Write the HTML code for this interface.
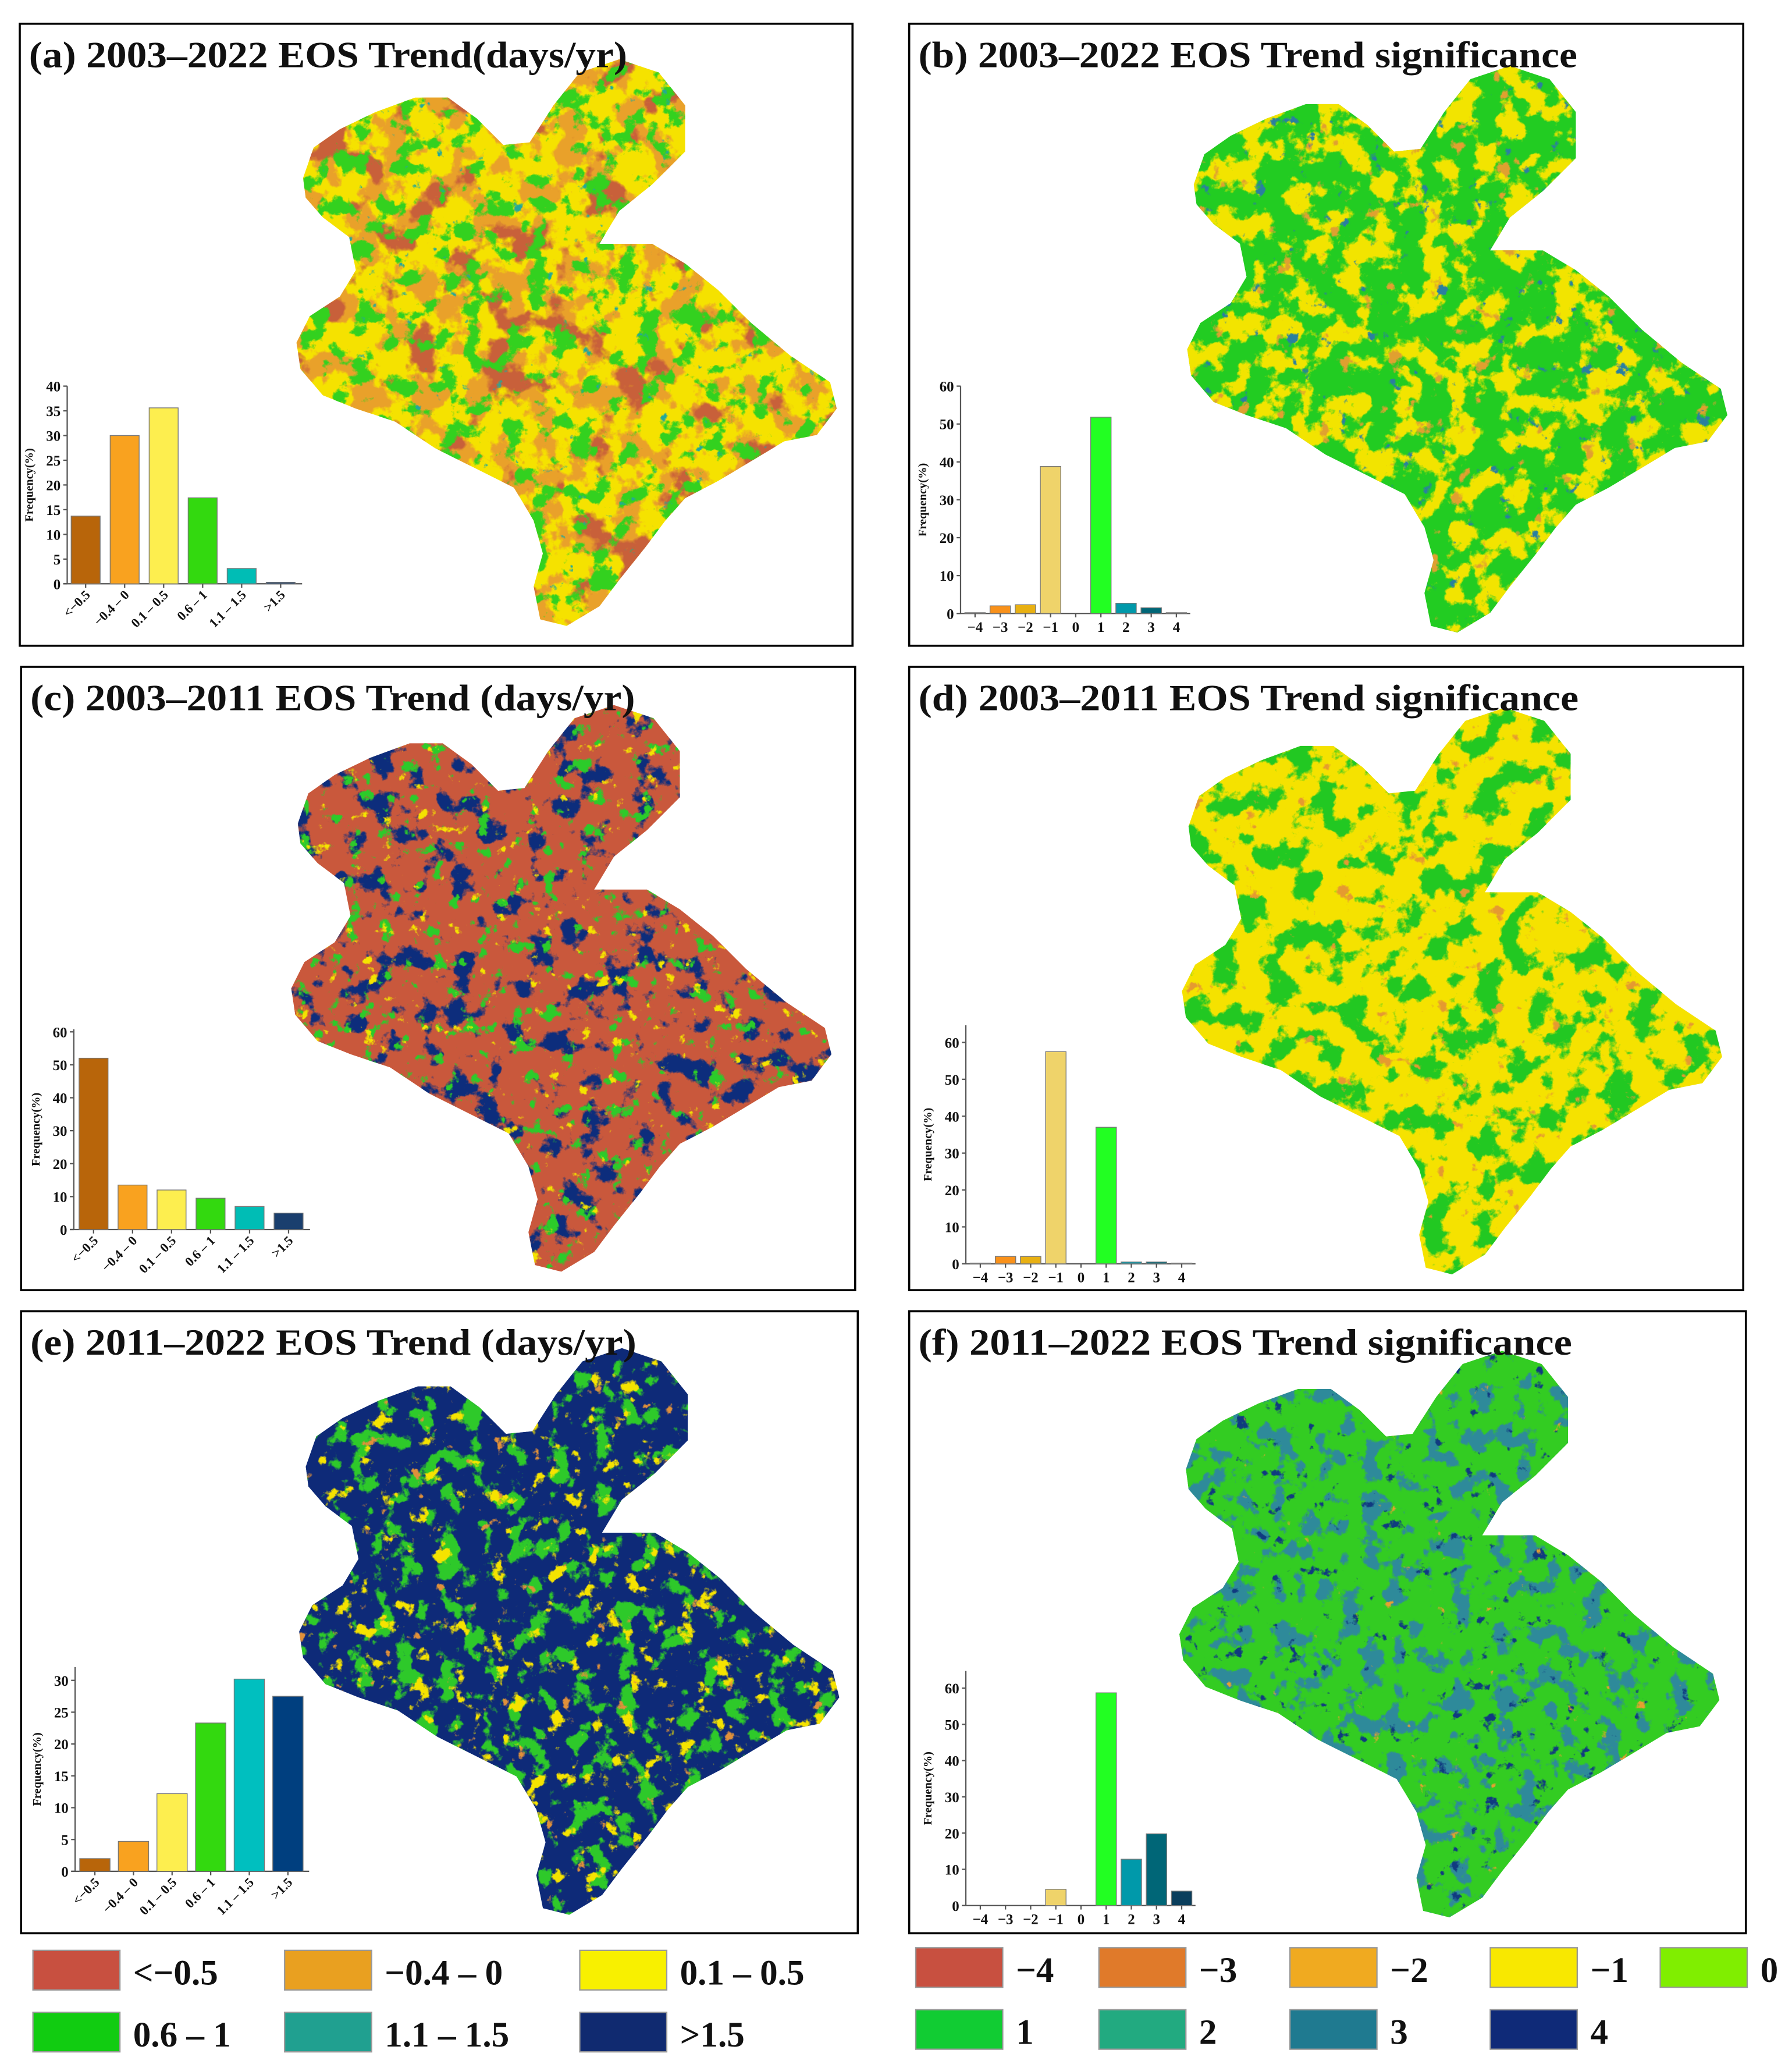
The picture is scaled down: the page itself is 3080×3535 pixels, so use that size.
<!DOCTYPE html>
<html><head><meta charset="utf-8">
<style>
html,body{margin:0;padding:0;background:#fff;}
svg{display:block;}
text{font-family:"Liberation Serif",serif;font-weight:bold;fill:#111;}
</style></head>
<body>
<svg id="fig" width="3080" height="3535" viewBox="0 0 1360 1560.9" preserveAspectRatio="none" xmlns="http://www.w3.org/2000/svg">
<defs id="defs"></defs>
<g id="root"></g>
</svg>
<script>
// ---- histogram data ----
const catsTrend = ["<−0.5","−0.4 – 0","0.1 – 0.5","0.6 – 1","1.1 – 1.5",">1.5"];
const catsSig = ["−4","−3","−2","−1","0","1","2","3","4"];
const valsA = [13.7, 30, 35.6, 17.4, 3.1, 0.3];
const valsB = [0.2, 2, 2.3, 38.8, 0, 51.8, 2.7, 1.5, 0.2];
const valsC = [52, 13.5, 12, 9.5, 7, 5];
const valsD = [0.2, 2, 2, 57.5, 0, 37, 0.5, 0.5, 0.2];
const valsE = [2, 4.7, 12.2, 23.3, 30.2, 27.5];
const valsF = [0, 0, 0, 4.5, 0, 58.7, 12.8, 19.8, 4];
const ticksA = [0,5,10,15,20,25,30,35,40];
const ticksSig = [0,10,20,30,40,50,60];
const ticksE = [0,5,10,15,20,25,30];

const NS="http://www.w3.org/2000/svg";
const root=document.getElementById('root');
const defs=document.getElementById('defs');
function mk(tag,attrs,parent){const e=document.createElementNS(NS,tag);for(const k in attrs)e.setAttribute(k,attrs[k]);(parent||root).appendChild(e);return e;}

const trendCols=["#b8650a","#f9a21f","#fdee4f","#33d90f","#00bdb5","#1a3f6e"];
const trendColsE=["#b8650a","#f9a21f","#fdee4f","#33d90f","#00bfbf","#003f7f"];
const sigCols=["#6b3a10","#f9911a","#e8b012","#efd36a","#ffffff","#22ff22","#0099aa","#006677","#0a3e5c"];

const panels=[
 {id:'a',x:15,y:18,w:632,h:472,tl:454,title:"(a) 2003–2022 EOS Trend(days/yr)"},
 {id:'b',x:690,y:18,w:633,h:472,tl:500,title:"(b) 2003–2022 EOS Trend significance"},
 {id:'c',x:16,y:506,w:633,h:473,tl:459,title:"(c) 2003–2011 EOS Trend (days/yr)"},
 {id:'d',x:690,y:506,w:633,h:473,tl:501,title:"(d) 2003–2011 EOS Trend significance"},
 {id:'e',x:16,y:995,w:635,h:472,tl:460,title:"(e) 2011–2022 EOS Trend (days/yr)"},
 {id:'f',x:690,y:995,w:635,h:472,tl:496,title:"(f) 2011–2022 EOS Trend significance"}
];

// ---- maps ----
const shape=[[230,135],[238,112],[258,98],[285,85],[315,74],[340,74],[362,90],[382,110],[402,108],[420,80],[440,55],[470,45],[500,55],[520,80],[520,115],[495,140],[470,160],[455,185],[470,185],[495,185],[520,200],[545,220],[570,245],[600,270],[630,290],[635,310],[620,330],[595,335],[570,350],[545,365],[520,378],[505,395],[490,415],[470,440],[455,460],[430,475],[410,470],[405,445],[412,420],[405,395],[390,370],[360,355],[330,340],[300,320],[270,310],[245,300],[228,280],[225,260],[235,240],[258,225],[270,205],[265,180],[245,165],[232,150]];
const maps=[
 {id:'a',dx:0,dy:0,base:'#f5e200',layers:[['#e9a12a',0.045,0.50,3],['#c8603a',0.03,0.60,7],['#33d11f',0.06,0.56,11],['#22a89a',0.08,0.76,5]]},
 {id:'b',dx:676,dy:5,base:'#22cc22',layers:[['#f2e400',0.05,0.50,2],['#e0a030',0.06,0.70,9],['#2a7fa0',0.08,0.72,4]]},
 {id:'c',dx:-4,dy:490,base:'#c9583c',layers:[['#0d2d7c',0.05,0.57,6],['#2ccb2a',0.08,0.63,13],['#f4e400',0.08,0.70,8]]},
 {id:'d',dx:672,dy:492,base:'#f5e200',layers:[['#22c822',0.05,0.52,1],['#e59a30',0.07,0.72,15]]},
 {id:'e',dx:2,dy:978,base:'#0e2a78',layers:[['#2ec92a',0.06,0.56,10],['#f5e300',0.07,0.65,12],['#e0903a',0.08,0.74,14]]},
 {id:'f',dx:670,dy:980,base:'#33cc22',layers:[['#2e8a9a',0.06,0.55,17],['#103a80',0.08,0.70,18],['#e8a030',0.08,0.78,19]]}
];
maps.forEach(m=>{
 const pts=shape.map(q=>(q[0]+m.dx)+','+(q[1]+m.dy)).join(' ');
 const cp=mk('clipPath',{id:'clip-'+m.id},defs);
 mk('polygon',{points:pts},cp);
 const g=mk('g',{'clip-path':'url(#clip-'+m.id+')'});
 
 
 mk('polygon',{points:pts,fill:m.base},g);
 m.layers.forEach((L,i)=>{
  const fid='f-'+m.id+i;
  const f=mk('filter',{id:fid,x:0,y:0,width:1,height:1,'color-interpolation-filters':'sRGB'},defs);
  mk('feTurbulence',{type:'fractalNoise',baseFrequency:L[1],numOctaves:5,seed:L[3],result:'n'},f);
  const k=12;
  mk('feColorMatrix',{in:'n',type:'matrix',values:'0 0 0 0 0  0 0 0 0 0  0 0 0 0 0  '+k+' 0 0 0 '+(-k*L[2]),result:'a'},f);
  mk('feFlood',{'flood-color':L[0],result:'c'},f);
  mk('feComposite',{in:'c',in2:'a',operator:'in'},f);
  mk('rect',{x:210+m.dx,y:30+m.dy,width:440,height:460,filter:'url(#'+fid+')'},g);
 });
});

// ---- panel frames and titles (on top of maps) ----
panels.forEach(p=>{
 const r=mk('rect',{x:p.x,y:p.y,width:p.w,height:p.h,fill:'none',stroke:'#000','stroke-width':1.6});
 
 
 const t=mk('text',{x:p.x+7,y:p.y+33,'font-size':28,textLength:p.tl,lengthAdjust:'spacingAndGlyphs'});
 t.textContent=p.title;
 
 
});

// ---- histograms ----
function hist(o){
 const g=mk('g',{});
 
 
 const yv=v=>o.y0-v*o.ppu;
 const xc=i=>o.x0+o.first+i*o.step;
 const xEnd=o.x0+o.first+(o.cats.length-1)*o.step+o.step*0.55;
 mk('line',{x1:o.x0,y1:o.y0,x2:o.x0,y2:o.top,stroke:'#555','stroke-width':1},g);
 mk('line',{x1:o.x0-3,y1:o.y0,x2:xEnd,y2:o.y0,stroke:'#555','stroke-width':1},g);
 o.ticks.forEach(t=>{
  mk('line',{x1:o.x0-3,y1:yv(t),x2:o.x0,y2:yv(t),stroke:'#555','stroke-width':1},g);
  const tx=mk('text',{x:o.x0-5,y:yv(t)+4,'font-size':11,'text-anchor':'end'},g);
  tx.textContent=t;
 });
 o.vals.forEach((v,i)=>{
  const b=mk('rect',{x:xc(i)-o.bw/2,y:yv(v),width:o.bw,height:v*o.ppu,fill:o.cols[i],stroke:'#777','stroke-width':0.6},g);
  
  
  mk('line',{x1:xc(i),y1:o.y0,x2:xc(i),y2:o.y0+3,stroke:'#555','stroke-width':1},g);
  const lab=o.cats[i];
  if(o.rot){
   const tx=mk('text',{x:xc(i)+4,y:o.y0+9,'font-size':10,'text-anchor':'end',transform:'rotate(-45 '+(xc(i)+4)+' '+(o.y0+9)+')'},g);
   tx.textContent=lab;
  } else {
   const tx=mk('text',{x:xc(i),y:o.y0+14,'font-size':11,'text-anchor':'middle'},g);
   tx.textContent=lab;
  }
 });
 const cy=(o.y0+o.top)/2;
 const yl=mk('text',{x:o.x0-26,y:cy,'font-size':9,'text-anchor':'middle',transform:'rotate(-90 '+(o.x0-26)+' '+cy+')'},g);
 yl.textContent='Frequency(%)';
 
 
}
hist({id:'a',x0:51,y0:443,ppu:3.75,top:293,first:14,step:29.6,bw:22,vals:valsA,cats:catsTrend,cols:trendCols,ticks:ticksA,rot:true});
hist({id:'b',x0:729,y0:465.5,ppu:2.875,top:293,first:11,step:19.1,bw:15.5,vals:valsB,cats:catsSig,cols:sigCols,ticks:ticksSig,rot:false});
hist({id:'c',x0:56,y0:933,ppu:2.5,top:781,first:15,step:29.6,bw:22,vals:valsC,cats:catsTrend,cols:trendCols,ticks:ticksSig,rot:true});
hist({id:'d',x0:733,y0:959,ppu:2.8,top:778,first:11,step:19.1,bw:15.5,vals:valsD,cats:catsSig,cols:sigCols,ticks:ticksSig,rot:false});
hist({id:'e',x0:57,y0:1420,ppu:4.83,top:1265,first:15,step:29.3,bw:23,vals:valsE,cats:catsTrend,cols:trendColsE,ticks:ticksE,rot:true});
hist({id:'f',x0:733,y0:1446,ppu:2.75,top:1268,first:11,step:19.1,bw:15.5,vals:valsF,cats:catsSig,cols:sigCols,ticks:ticksSig,rot:false});

// ---- legends ----
const legL=[["<−0.5","#c85040",25,1480],["−0.4 – 0","#e9a020",216,1480],["0.1 – 0.5","#f8f000",440,1480],
 ["0.6 – 1","#11cc11",25,1527],["1.1 – 1.5","#20a090",216,1527],[">1.5","#102a70",440,1527]];
const legR=[["−4","#c85040",695,1478],["−3","#e07a2a",834,1478],["−2","#f0aa20",979,1478],["−1","#f8e800",1131,1478],["0","#80ee00",1260,1478],
 ["1","#11cc33",695,1525],["2","#22aa80",834,1525],["3","#1f7a90",979,1525],["4","#0f2a78",1131,1525]];
legL.concat(legR).forEach((l,i)=>{
 const g=mk('g',{});
 
 
 mk('rect',{x:l[2],y:l[3],width:66,height:30,fill:l[1],stroke:'#999','stroke-width':1},g);
 const t=mk('text',{x:l[2]+76,y:l[3]+26,'font-size':27},g);
 t.textContent=l[0];
});
</script>
</body></html>
